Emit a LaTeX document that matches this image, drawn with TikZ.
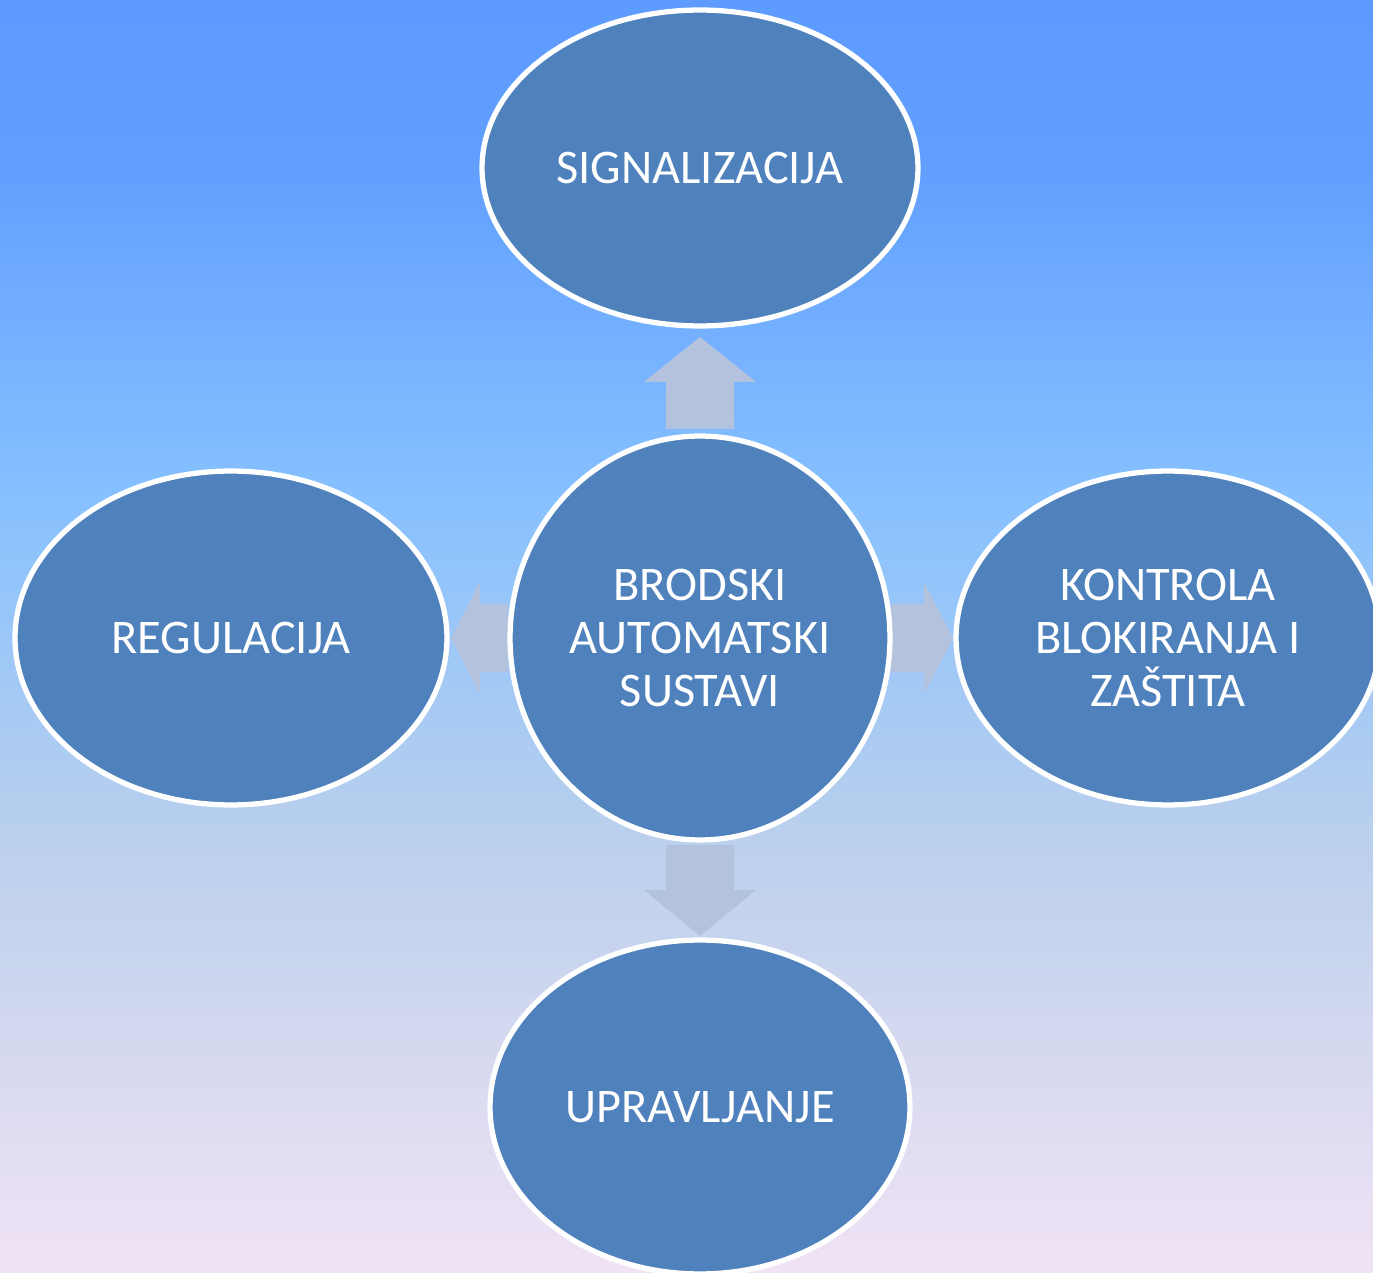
\documentclass[tikz,border=0pt]{standalone}
\usepackage{fontspec}
\setmainfont{Carlito}
\usetikzlibrary{shapes.geometric}
\definecolor{bubble}{RGB}{79,129,189}
\definecolor{blockarrow}{RGB}{179,194,221}
\definecolor{bgA}{RGB}{241,227,245}
\definecolor{bgB}{RGB}{188,208,236}
\definecolor{bgC}{RGB}{135,193,255}
\definecolor{bgD}{RGB}{96,158,255}
\definecolor{bgE}{RGB}{93,155,255}
\pgfdeclareverticalshading{backdrop}{100bp}{color(0bp)=(bgA); color(25bp)=(bgA); color(41.6bp)=(bgB); color(55.4bp)=(bgC); color(68.7bp)=(bgD); color(75bp)=(bgE); color(100bp)=(bgE)}
\pgfdeclarelayer{backdrop}
\pgfdeclarelayer{arrows}
\pgfsetlayers{backdrop,arrows,main}
\tikzset{
  bubble/.style={ellipse, draw=white, line width=3pt, fill=bubble, text=white,
    inner sep=0pt, outer sep=0pt, align=center, font=\fontsize{27.5}{30}\selectfont},
  blockarrow/.style={fill=blockarrow}
}
\begin{document}
\begin{tikzpicture}[x=0.02cm, y=-0.02cm, line join=round]
		\clip (0,0) rectangle (1373,1273);
		\begin{pgfonlayer}{backdrop}
		\shade[shading=backdrop] (0,0) rectangle (1373,1273);
		\end{pgfonlayer}
		% nodes
		\node[bubble, minimum width=7.6cm, minimum height=8.08cm] (centre) at (700,638) {BRODSKI\\AUTOMATSKI\\SUSTAVI};
		\node[bubble, minimum width=8.72cm, minimum height=6.32cm] (signal) at (700,168) {SIGNALIZACIJA};
		\node[bubble, minimum width=8.64cm, minimum height=6.68cm] (regul) at (231,638) {REGULACIJA};
		\node[bubble, minimum width=8.48cm, minimum height=6.68cm] (kontrola) at (1168,638) {KONTROLA\\BLOKIRANJA I\\ZAŠTITA};
		\node[bubble, minimum width=8.4cm, minimum height=6.68cm] (upravlj) at (700,1107) {UPRAVLJANJE};
		% block arrows
		\begin{pgfonlayer}{arrows}
		\fill[blockarrow] (signal.south) ++(0,11) -- ++(56,45) -- ++(-22,0) -- ++(0,47) -- ++(-68,0) -- ++(0,-47) -- ++(-22,0) -- cycle;
		\fill[blockarrow] (centre.south) ++(-34,5) -- ++(68,0) -- ++(0,45) -- ++(22,0) -- ++(-56,46) -- ++(-56,-46) -- ++(22,0) -- cycle;
		\fill[blockarrow] (regul.east) ++(4,0) -- ++(29,-56) -- ++(0,22) -- ++(28,0) -- ++(0,68) -- ++(-28,0) -- ++(0,22) -- cycle;
		\fill[blockarrow] (kontrola.west) ++(-3,0) -- ++(-29,-56) -- ++(0,22) -- ++(-33,0) -- ++(0,68) -- ++(33,0) -- ++(0,22) -- cycle;
		\end{pgfonlayer}
\end{tikzpicture}
\end{document}
